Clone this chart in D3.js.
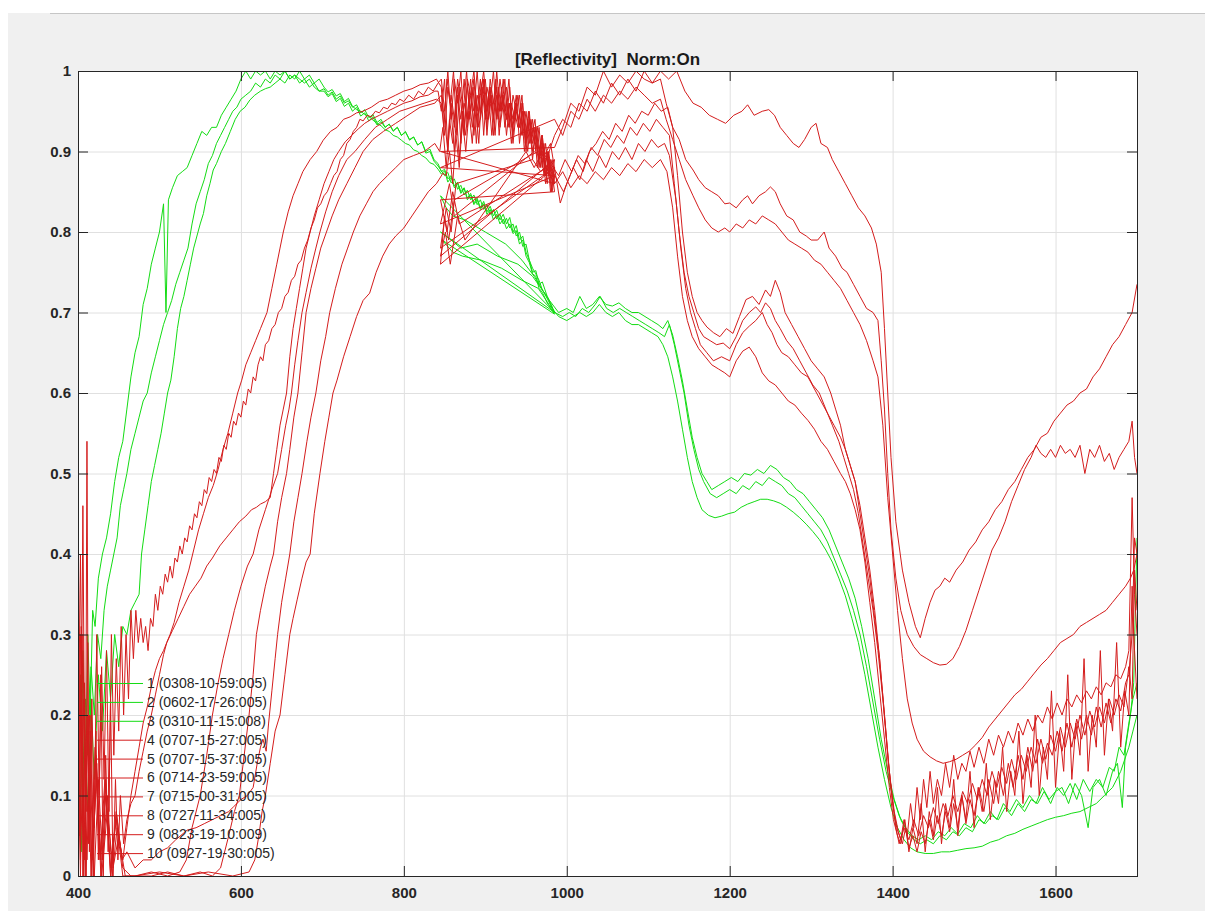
<!DOCTYPE html>
<html>
<head>
<meta charset="utf-8">
<script src="https://cdn.jsdelivr.net/npm/d3@7"></script>
<style>
body { margin: 0; background: #fff; }
svg { display: block; font-family: "Liberation Sans", Arial, sans-serif; }
</style>
</head>
<body>
<div id="vis"></div>
<script>
// Reflectivity spectra, [wavelength, value]. Each spectrum is two detector
// runs (400-985 and 845-1700) joined in one path, like the source file.

var labels = ['1 (0308-10-59:005)', '2 (0602-17-26:005)', '3 (0310-11-15:008)',
	'4 (0707-15-27:005)', '5 (0707-15-37:005)', '6 (0714-23-59:005)',
	'7 (0715-00-31:005)', '8 (0727-11-34:005)', '9 (0823-19-10:009)',
	'10 (0927-19-30:005)'];

var xTicks = [400, 600, 800, 1000, 1200, 1400, 1600];
var yTicks = [0, 0.1, 0.2, 0.3, 0.4, 0.5, 0.6, 0.7, 0.8, 0.9, 1];

var ser1 = [[400,0.22],[403,0.05],[406,0.28],[409,0.12],[412,0.30],[415,0.2],[418,0.33],[421,0.31],[425,0.37],[430,0.40],[435,0.42],[440,0.45],[445,0.49],[450,0.52],[455,0.54],[460,0.58],[465,0.62],[470,0.65],[475,0.67],[480,0.71],[485,0.73],[490,0.76],[495,0.78],[500,0.80],[505,0.835],[508,0.70],[511,0.84],[516,0.855],[522,0.87],[528,0.875],[534,0.88],[540,0.895],[546,0.91],[552,0.925],[558,0.92],[564,0.93],[570,0.93],[576,0.945],[582,0.955],[588,0.965],[594,0.975],[600,0.99],[606,1.0],[612,0.99],[618,1.0],[624,0.995],[630,1.0],[636,0.99],[642,1.0],[648,0.995],[654,1.0],[660,0.99],[666,0.995],[672,0.985],[678,0.99],[684,0.98],[690,0.985],[696,0.975],
	[702,0.975],[707,0.968],[712,0.972],[717,0.962],[722,0.966],[727,0.956],[732,0.96],[737,0.95],[742,0.955],[747,0.944],[752,0.948],[757,0.938],[762,0.943],[767,0.933],[772,0.937],[777,0.93],[782,0.934],[787,0.925],[792,0.93],[797,0.92],[802,0.924],[807,0.915],[812,0.918],[817,0.908],[822,0.912],[827,0.9],[832,0.903],[837,0.89],[842,0.885],[846,0.875],[850,0.878],[854,0.866],[858,0.87],[862,0.857],[866,0.862],[870,0.85],[874,0.855],[878,0.842],[882,0.848],[886,0.836],[890,0.842],[894,0.83],[898,0.838],[902,0.825],[906,0.832],[910,0.82],[914,0.827],[918,0.815],[922,0.822],[926,0.81],[930,0.818],[934,0.80],[938,0.808],[942,0.79],[946,0.795],[950,0.775],[954,0.765],[958,0.75],[962,0.752],[966,0.735],[970,0.738],[976,0.72],[980,0.712],[985,0.70],
	[845,0.845],[852,0.83],[860,0.82],[875,0.815],[900,0.80],[925,0.785],[945,0.765],[960,0.745],[975,0.72],[990,0.70],[1000,0.705],[1008,0.70],[1016,0.72],[1024,0.705],[1032,0.71],[1040,0.72],[1048,0.71],[1056,0.708],[1064,0.712],[1072,0.705],[1080,0.70],[1088,0.70],[1096,0.695],[1104,0.69],[1112,0.685],[1118,0.68],[1124,0.69],[1130,0.672],[1136,0.645],[1142,0.615],[1148,0.58],[1154,0.545],[1160,0.52],[1166,0.50],[1172,0.49],[1178,0.48],[1186,0.485],[1194,0.49],[1202,0.495],[1210,0.49],[1218,0.50],[1226,0.498],[1234,0.505],[1242,0.50],[1250,0.51],[1258,0.505],[1266,0.495],[1274,0.49],[1282,0.48],[1290,0.475],[1298,0.465],[1306,0.455],[1314,0.445],[1322,0.43],[1330,0.41],[1338,0.39],[1346,0.37],[1354,0.345],[1362,0.31],[1370,0.27],[1378,0.22],[1386,0.17],[1394,0.13],[1402,0.095],[1410,0.07],[1418,0.055],[1426,0.045],[1434,0.04],[1442,0.045],[1450,0.04],[1458,0.05],[1466,0.045],[1474,0.055],[1482,0.05],[1490,0.06],[1498,0.055],[1506,0.07],[1514,0.065],[1522,0.075],[1530,0.07],[1538,0.085],[1546,0.075],[1554,0.09],[1562,0.08],[1570,0.095],[1578,0.09],[1586,0.105],[1594,0.09],[1602,0.11],[1610,0.10],[1618,0.115],[1626,0.095],[1634,0.12],[1642,0.105],[1650,0.12],[1658,0.11],[1666,0.135],[1672,0.13],[1678,0.16],[1684,0.15],[1690,0.19],[1695,0.22],[1700,0.24]];

var ser2 = [[400,0.10],[403,0.25],[406,0.08],[409,0.22],[412,0.15],[416,0.26],[420,0.2],[424,0.3],[428,0.27],[432,0.33],[436,0.36],[440,0.38],[444,0.40],[448,0.42],[452,0.46],[456,0.48],[460,0.50],[465,0.53],[470,0.55],[475,0.57],[480,0.59],[485,0.60],[490,0.625],[495,0.645],[500,0.665],[505,0.685],[510,0.70],[515,0.715],[520,0.735],[525,0.75],[530,0.765],[535,0.78],[540,0.81],[545,0.835],[550,0.85],[555,0.865],[560,0.885],[565,0.895],[570,0.91],[575,0.92],[580,0.93],[585,0.94],[590,0.95],[595,0.955],[600,0.965],[606,0.97],[612,0.975],[618,0.985],[624,0.98],[630,0.99],[636,0.985],[642,0.995],[648,0.99],[654,1.0],[660,0.99],[666,0.995],[672,0.99],[678,0.985],[684,0.99],[690,0.98],[696,0.975],
	[702,0.978],[707,0.97],[712,0.974],[717,0.965],[722,0.969],[727,0.96],[732,0.963],[737,0.955],[742,0.958],[747,0.948],[752,0.952],[757,0.942],[762,0.946],[767,0.936],[772,0.94],[777,0.93],[782,0.934],[787,0.926],[792,0.93],[797,0.92],[802,0.925],[807,0.914],[812,0.918],[817,0.908],[822,0.912],[827,0.898],[832,0.9],[837,0.888],[842,0.882],[846,0.876],[850,0.87],[854,0.874],[858,0.861],[862,0.866],[866,0.853],[870,0.858],[874,0.846],[878,0.852],[882,0.84],[886,0.846],[890,0.834],[894,0.84],[898,0.828],[902,0.834],[906,0.822],[910,0.828],[914,0.816],[918,0.822],[922,0.81],[926,0.817],[930,0.805],[934,0.81],[938,0.795],[942,0.80],[946,0.782],[950,0.785],[954,0.765],[958,0.755],[962,0.748],[966,0.74],[970,0.728],[976,0.72],[980,0.71],[985,0.70],
	[845,0.80],[858,0.79],[870,0.78],[890,0.785],[915,0.77],[940,0.76],[958,0.745],[972,0.725],[985,0.70],[995,0.695],[1003,0.70],[1011,0.695],[1019,0.705],[1027,0.70],[1035,0.71],[1041,0.72],[1049,0.705],[1057,0.70],[1065,0.705],[1073,0.70],[1081,0.695],[1089,0.69],[1097,0.685],[1105,0.68],[1113,0.675],[1120,0.67],[1126,0.685],[1132,0.66],[1138,0.63],[1144,0.60],[1150,0.56],[1156,0.53],[1162,0.505],[1168,0.49],[1176,0.475],[1184,0.47],[1192,0.475],[1200,0.48],[1208,0.475],[1216,0.485],[1224,0.48],[1232,0.49],[1240,0.485],[1248,0.495],[1256,0.49],[1264,0.485],[1272,0.475],[1280,0.47],[1288,0.46],[1296,0.45],[1304,0.44],[1312,0.43],[1320,0.415],[1328,0.395],[1336,0.375],[1344,0.355],[1352,0.33],[1360,0.30],[1368,0.26],[1376,0.215],[1384,0.17],[1392,0.13],[1400,0.10],[1408,0.075],[1416,0.06],[1424,0.05],[1432,0.045],[1440,0.05],[1448,0.045],[1456,0.055],[1464,0.05],[1472,0.06],[1480,0.052],[1488,0.065],[1496,0.06],[1504,0.075],[1512,0.065],[1520,0.08],[1528,0.07],[1536,0.09],[1544,0.08],[1552,0.095],[1560,0.085],[1568,0.10],[1576,0.09],[1584,0.11],[1592,0.095],[1600,0.105],[1608,0.11],[1616,0.09],[1624,0.115],[1632,0.10],[1640,0.06],[1646,0.11],[1654,0.12],[1662,0.10],[1670,0.13],[1676,0.14],[1682,0.085],[1686,0.16],[1692,0.20],[1696,0.24],[1700,0.42]];

var ser3 = [[400,0.15],[404,0.03],[408,0.2],[412,0.08],[416,0.22],[420,0.12],[425,0.25],[430,0.18],[435,0.28],[440,0.22],[445,0.3],[450,0.26],[455,0.31],[460,0.3],[465,0.33],[470,0.34],[475,0.35],[478,0.40],[482,0.43],[486,0.46],[490,0.49],[494,0.51],[498,0.53],[502,0.55],[506,0.575],[510,0.60],[514,0.616],[518,0.645],[522,0.68],[526,0.705],[530,0.72],[534,0.74],[538,0.76],[542,0.78],[546,0.795],[550,0.81],[554,0.823],[558,0.845],[562,0.86],[566,0.877],[570,0.885],[576,0.90],[581,0.91],[587,0.925],[593,0.94],[599,0.95],[605,0.955],[611,0.964],[617,0.97],[624,0.975],[630,0.978],[636,0.98],[642,0.985],[648,0.99],[654,0.985],[660,0.995],[666,0.99],[672,1.0],[678,0.99],[684,0.995],[690,0.985],[696,0.99],
	[702,0.98],[707,0.974],[712,0.977],[717,0.969],[722,0.972],[727,0.962],[732,0.966],[737,0.956],[742,0.952],[747,0.95],[752,0.946],[757,0.944],[762,0.939],[767,0.935],[772,0.932],[777,0.927],[782,0.925],[787,0.92],[792,0.918],[797,0.914],[802,0.91],[807,0.908],[812,0.902],[817,0.9],[822,0.895],[827,0.892],[832,0.886],[837,0.884],[842,0.878],[846,0.872],[850,0.876],[854,0.862],[858,0.868],[862,0.855],[866,0.86],[870,0.848],[874,0.854],[878,0.84],[882,0.846],[886,0.834],[890,0.84],[894,0.828],[898,0.835],[902,0.822],[906,0.828],[910,0.815],[914,0.822],[918,0.81],[922,0.816],[926,0.804],[930,0.81],[934,0.798],[938,0.802],[942,0.785],[946,0.79],[950,0.77],[954,0.762],[958,0.748],[962,0.745],[966,0.73],[970,0.725],[976,0.712],[980,0.706],[985,0.698],
	[847,0.79],[860,0.775],[872,0.77],[895,0.765],[920,0.755],[945,0.74],[965,0.73],[978,0.71],[990,0.695],[1000,0.69],[1008,0.695],[1016,0.70],[1024,0.695],[1032,0.70],[1040,0.71],[1048,0.70],[1056,0.695],[1064,0.70],[1072,0.69],[1080,0.685],[1088,0.685],[1096,0.68],[1104,0.675],[1112,0.67],[1118,0.66],[1124,0.645],[1130,0.62],[1136,0.59],[1142,0.555],[1148,0.52],[1154,0.49],[1160,0.47],[1166,0.455],[1174,0.448],[1182,0.445],[1190,0.447],[1198,0.45],[1206,0.452],[1214,0.458],[1222,0.462],[1230,0.465],[1238,0.468],[1246,0.468],[1254,0.466],[1262,0.463],[1270,0.458],[1278,0.452],[1286,0.445],[1294,0.437],[1302,0.428],[1310,0.418],[1318,0.405],[1326,0.39],[1334,0.37],[1342,0.348],[1350,0.32],[1358,0.29],[1366,0.25],[1374,0.205],[1382,0.16],[1390,0.12],[1398,0.085],[1406,0.06],[1414,0.045],[1422,0.035],[1430,0.03],[1440,0.028],[1450,0.028],[1460,0.03],[1470,0.03],[1480,0.032],[1490,0.034],[1500,0.035],[1510,0.037],[1520,0.042],[1530,0.045],[1540,0.05],[1550,0.053],[1560,0.058],[1570,0.062],[1580,0.066],[1590,0.07],[1600,0.073],[1610,0.075],[1620,0.078],[1630,0.08],[1640,0.085],[1650,0.09],[1660,0.10],[1670,0.11],[1680,0.13],[1690,0.16],[1695,0.18],[1700,0.20]];

var ser4 = [[400,0.42],[402,0.05],[404,0.31],[406,0.0],[408,0.24],[410,0.08],[412,0.29],[414,0.03],[417,0.22],[420,0.06],[423,0.3],[426,0.1],[429,0.26],[432,0.12],[435,0.28],[438,0.08],[441,0.3],[444,0.15],[447,0.27],[450,0.18],[453,0.31],[456,0.2],[459,0.3],[462,0.22],[465,0.33],[468,0.27],[471,0.33],[474,0.29],[477,0.32],[480,0.29],[483,0.31],[486,0.28],[489,0.32],[492,0.31],[495,0.35],[498,0.33],[501,0.36],[504,0.35],[507,0.375],[510,0.365],[513,0.385],[516,0.37],[519,0.395],[522,0.39],[525,0.41],[528,0.40],[531,0.42],[534,0.415],[537,0.435],[540,0.43],[543,0.45],[546,0.445],[549,0.465],[552,0.46],[555,0.48],[558,0.475],[561,0.495],[564,0.49],[567,0.505],[570,0.50],[573,0.52],[576,0.515],[579,0.535],[582,0.53],[585,0.55],[588,0.545],[591,0.565],[594,0.56],[597,0.575],[600,0.57],[603,0.59],[606,0.585],[609,0.605],[612,0.60],[615,0.62],[618,0.615],[621,0.635],[624,0.645],[627,0.64],[630,0.66],[634,0.665],[638,0.68],[642,0.685],[646,0.70],[650,0.705],[654,0.72],[658,0.725],[662,0.74],[666,0.745],[670,0.76],[674,0.765],[678,0.78],[682,0.79],[686,0.805],[690,0.815],[694,0.83],[698,0.835],[702,0.845],[706,0.85],[710,0.86],[714,0.87],[718,0.875],[722,0.89],[726,0.895],[730,0.91],[734,0.915],[738,0.925],[742,0.93],[746,0.94],[750,0.938],[755,0.945],[760,0.943],[765,0.95],[770,0.948],[775,0.955],[780,0.953],[785,0.96],[790,0.958],[795,0.965],[800,0.962],[806,0.97],[812,0.965],[818,0.975],[824,0.97],[830,0.98],[836,0.975],[842,0.985],
	[846,0.99],[850,0.95],[854,1.0],[858,0.94],[862,0.99],[866,0.96],[870,1.0],[874,0.93],[878,0.99],[882,0.97],[886,1.0],[890,0.95],[894,0.99],[898,0.92],[902,0.98],[906,0.96],[910,1.0],[914,0.94],[918,0.99],[922,0.96],[926,0.98],[930,0.93],[934,0.97],[938,0.95],[942,0.97],[946,0.92],[950,0.95],[954,0.91],[958,0.94],[962,0.90],[966,0.93],[970,0.88],[974,0.91],[978,0.87],[982,0.89],[985,0.86],
	[845,0.90],[985,0.905],[995,0.93],[1005,0.96],[1015,0.95],[1025,0.98],[1035,0.97],[1045,1.0],[1055,0.98],[1065,0.995],[1075,0.985],[1085,1.0],[1095,0.99],[1105,0.985],[1115,1.0],[1125,0.99],[1135,1.0],[1145,0.975],[1155,0.96],[1165,0.955],[1175,0.945],[1185,0.94],[1195,0.935],[1205,0.945],[1215,0.95],[1222,0.958],[1230,0.945],[1240,0.95],[1248,0.952],[1255,0.945],[1262,0.93],[1270,0.92],[1278,0.91],[1285,0.905],[1292,0.915],[1300,0.93],[1306,0.935],[1312,0.91],[1320,0.905],[1326,0.89],[1334,0.875],[1342,0.86],[1350,0.845],[1358,0.83],[1366,0.82],[1374,0.805],[1380,0.785],[1386,0.75],[1390,0.68],[1394,0.60],[1398,0.52],[1404,0.44],[1412,0.38],[1420,0.34],[1428,0.31],[1434,0.296],[1440,0.32],[1446,0.34],[1452,0.355],[1458,0.36],[1464,0.37],[1470,0.365],[1478,0.38],[1486,0.39],[1494,0.405],[1502,0.415],[1510,0.43],[1518,0.44],[1526,0.455],[1534,0.465],[1542,0.48],[1550,0.49],[1558,0.505],[1566,0.52],[1574,0.53],[1582,0.545],[1590,0.55],[1598,0.565],[1606,0.575],[1614,0.585],[1622,0.59],[1630,0.60],[1638,0.605],[1646,0.62],[1654,0.63],[1662,0.645],[1670,0.66],[1678,0.67],[1686,0.685],[1694,0.70],[1700,0.735]];

var ser5 = [[400,0.3],[403,0.02],[406,0.46],[409,0.0],[411,0.54],[413,0.04],[416,0.2],[419,0.0],[422,0.18],[425,0.02],[428,0.25],[431,0.0],[434,0.15],[437,0.03],[440,0.22],[443,0.0],[446,0.12],[449,0.02],[452,0.1],[456,0.04],[460,0.07],[465,0.09],[470,0.10],[475,0.13],[480,0.155],[485,0.18],[490,0.20],[495,0.225],[500,0.25],[505,0.275],[509,0.29],[513,0.30],[518,0.315],[524,0.34],[530,0.36],[536,0.38],[542,0.405],[548,0.43],[554,0.45],[560,0.47],[566,0.485],[572,0.505],[578,0.53],[584,0.55],[590,0.575],[596,0.60],[601,0.616],[606,0.635],[612,0.65],[618,0.665],[624,0.68],[632,0.70],[638,0.73],[644,0.76],[648,0.78],[652,0.80],[658,0.825],[664,0.845],[670,0.86],[676,0.875],[685,0.89],[693,0.90],[701,0.914],[710,0.925],[718,0.93],[726,0.94],[734,0.943],[742,0.948],[750,0.95],[760,0.955],[770,0.962],[780,0.965],[790,0.97],[800,0.975],[810,0.978],[820,0.983],[830,0.985],[840,0.99],
	[846,0.98],[849,0.93],[853,0.99],[857,0.96],[861,1.0],[865,0.92],[869,0.98],[873,0.95],[877,1.0],[881,0.94],[885,0.98],[889,0.91],[893,0.97],[897,0.99],[901,0.94],[905,0.98],[909,0.95],[913,0.99],[917,0.92],[921,0.97],[925,0.95],[929,0.99],[933,0.93],[937,0.96],[941,0.94],[945,0.97],[949,0.91],[953,0.95],[957,0.92],[961,0.94],[965,0.89],[969,0.92],[973,0.88],[977,0.90],[981,0.85],[985,0.88],
	[845,0.76],[850,0.82],[855,0.79],[862,0.84],[955,0.895],[965,0.90],[975,0.89],[985,0.92],[995,0.94],[1005,0.93],[1015,0.96],[1025,0.95],[1035,0.975],[1045,0.96],[1055,0.985],[1065,0.97],[1075,0.99],[1085,0.975],[1095,1.0],[1105,0.985],[1115,0.99],[1122,0.96],[1130,0.93],[1138,0.915],[1146,0.89],[1155,0.877],[1162,0.865],[1170,0.855],[1178,0.85],[1186,0.845],[1194,0.835],[1200,0.836],[1208,0.83],[1216,0.84],[1222,0.845],[1228,0.835],[1236,0.845],[1244,0.85],[1250,0.856],[1256,0.85],[1262,0.835],[1270,0.82],[1278,0.815],[1286,0.80],[1294,0.795],[1300,0.79],[1308,0.79],[1316,0.80],[1322,0.78],[1330,0.77],[1338,0.755],[1344,0.75],[1352,0.735],[1360,0.72],[1368,0.705],[1376,0.70],[1382,0.69],[1386,0.64],[1390,0.58],[1394,0.50],[1398,0.43],[1404,0.37],[1410,0.33],[1418,0.30],[1426,0.285],[1434,0.275],[1442,0.27],[1450,0.265],[1458,0.262],[1466,0.263],[1474,0.27],[1482,0.285],[1490,0.305],[1498,0.33],[1506,0.355],[1514,0.38],[1522,0.405],[1530,0.42],[1538,0.44],[1546,0.465],[1554,0.485],[1562,0.505],[1570,0.52],[1576,0.535],[1582,0.525],[1588,0.52],[1594,0.53],[1600,0.52],[1606,0.535],[1612,0.525],[1618,0.53],[1624,0.52],[1630,0.535],[1636,0.50],[1642,0.53],[1648,0.52],[1654,0.535],[1660,0.515],[1666,0.525],[1672,0.505],[1678,0.52],[1684,0.53],[1690,0.54],[1694,0.565],[1697,0.52],[1700,0.50]];

var ser6 = [[400,0.15],[403,0.0],[407,0.22],[411,0.02],[415,0.18],[420,0.0],[425,0.12],[430,0.02],[436,0.1],[442,0.0],[448,0.06],[455,0.02],[460,0.06],[465,0.10],[470,0.13],[475,0.16],[480,0.19],[485,0.21],[490,0.235],[495,0.255],[500,0.27],[505,0.28],[509,0.29],[516,0.305],[523,0.32],[530,0.335],[537,0.35],[544,0.36],[551,0.37],[558,0.385],[565,0.395],[574,0.41],[582,0.42],[590,0.43],[598,0.44],[606,0.447],[613,0.455],[619,0.458],[624,0.462],[630,0.465],[636,0.47],[640,0.50],[644,0.53],[648,0.56],[652,0.58],[656,0.60],[660,0.645],[664,0.68],[668,0.705],[672,0.73],[676,0.755],[680,0.78],[685,0.80],[690,0.82],[696,0.84],[702,0.86],[708,0.875],[714,0.89],[720,0.90],[728,0.912],[736,0.92],[744,0.928],[752,0.935],[760,0.94],[770,0.945],[780,0.95],[790,0.955],[800,0.96],[810,0.963],[820,0.968],[830,0.97],[838,0.975],
	[842,0.975],[846,0.95],[850,0.99],[854,0.90],[858,0.97],[862,0.94],[866,0.99],[870,0.96],[874,0.92],[878,0.98],[882,0.95],[886,0.99],[890,0.93],[894,0.97],[898,1.0],[902,0.95],[906,0.98],[910,0.92],[914,0.97],[918,0.95],[922,0.99],[926,0.94],[930,0.96],[934,0.91],[938,0.95],[942,0.93],[946,0.96],[950,0.90],[954,0.94],[958,0.91],[962,0.93],[966,0.88],[970,0.92],[974,0.87],[978,0.89],[982,0.85],[985,0.87],
	[845,0.88],[985,0.94],[995,0.92],[1005,0.95],[1015,0.94],[1025,0.965],[1035,0.95],[1045,0.97],[1055,0.96],[1065,0.975],[1075,0.965],[1085,0.98],[1095,0.97],[1105,0.96],[1115,0.965],[1122,0.94],[1130,0.915],[1138,0.89],[1146,0.865],[1155,0.845],[1162,0.83],[1170,0.815],[1178,0.805],[1186,0.80],[1194,0.805],[1200,0.80],[1208,0.81],[1216,0.805],[1224,0.815],[1232,0.81],[1240,0.82],[1248,0.815],[1256,0.81],[1264,0.80],[1272,0.79],[1280,0.785],[1288,0.78],[1296,0.775],[1304,0.765],[1312,0.76],[1320,0.75],[1328,0.74],[1336,0.73],[1344,0.715],[1352,0.70],[1360,0.685],[1368,0.665],[1376,0.64],[1382,0.62],[1388,0.56],[1394,0.47],[1400,0.40],[1406,0.33],[1412,0.27],[1418,0.22],[1424,0.19],[1430,0.17],[1438,0.155],[1446,0.148],[1454,0.143],[1462,0.14],[1470,0.142],[1478,0.145],[1486,0.15],[1494,0.155],[1502,0.163],[1510,0.172],[1518,0.185],[1526,0.195],[1534,0.205],[1542,0.215],[1550,0.225],[1558,0.232],[1566,0.242],[1574,0.252],[1582,0.262],[1590,0.27],[1598,0.28],[1606,0.29],[1614,0.295],[1622,0.30],[1630,0.31],[1638,0.315],[1646,0.32],[1654,0.325],[1662,0.33],[1670,0.34],[1678,0.35],[1686,0.36],[1692,0.37],[1696,0.38],[1700,0.40]];

var ser7 = [[400,0.46],[403,0.05],[406,0.3],[410,0.0],[414,0.2],[418,0.02],[423,0.14],[428,0.0],[434,0.1],[440,0.01],[447,0.07],[455,0.0],[470,0.0],[490,0.005],[510,0.0],[525,0.005],[533,0.02],[540,0.06],[550,0.1],[558,0.15],[565,0.2],[572,0.24],[578,0.27],[585,0.3],[592,0.33],[600,0.36],[608,0.385],[615,0.4],[622,0.43],[630,0.455],[638,0.48],[645,0.5],[650,0.53],[655,0.56],[659,0.58],[662,0.6],[666,0.635],[670,0.665],[675,0.7],[680,0.725],[686,0.755],[692,0.78],[697,0.8],[704,0.825],[712,0.85],[720,0.87],[730,0.89],[740,0.9],[752,0.915],[765,0.93],[780,0.94],[795,0.95],[810,0.955],[825,0.96],[840,0.965],
	[846,0.96],[850,0.92],[854,0.98],[858,0.95],[862,0.90],[866,0.97],[870,0.94],[874,0.99],[878,0.93],[882,0.97],[886,0.95],[890,1.0],[894,0.94],[898,0.97],[902,0.93],[906,0.99],[910,0.96],[914,0.98],[918,0.93],[922,0.96],[926,0.94],[930,0.98],[934,0.92],[938,0.96],[942,0.93],[946,0.95],[950,0.91],[954,0.94],[958,0.89],[962,0.93],[966,0.90],[970,0.92],[974,0.87],[978,0.90],[982,0.86],[985,0.88],
	[845,0.78],[852,0.83],[858,0.80],[864,0.86],[958,0.89],[968,0.875],[978,0.885],[988,0.865],[996,0.85],[1004,0.87],[1012,0.89],[1020,0.875],[1028,0.90],[1036,0.91],[1044,0.925],[1052,0.915],[1060,0.935],[1068,0.925],[1076,0.945],[1084,0.935],[1092,0.95],[1100,0.945],[1108,0.96],[1116,0.95],[1124,0.955],[1130,0.93],[1136,0.87],[1142,0.80],[1148,0.75],[1154,0.72],[1160,0.70],[1166,0.69],[1172,0.682],[1180,0.675],[1188,0.67],[1196,0.68],[1204,0.674],[1212,0.695],[1220,0.716],[1228,0.72],[1236,0.71],[1244,0.728],[1250,0.72],[1256,0.74],[1262,0.725],[1268,0.70],[1276,0.685],[1284,0.67],[1292,0.655],[1300,0.64],[1308,0.63],[1316,0.62],[1324,0.60],[1330,0.58],[1336,0.56],[1342,0.53],[1348,0.51],[1354,0.49],[1360,0.45],[1366,0.41],[1372,0.37],[1378,0.32],[1384,0.27],[1390,0.2],[1395,0.14],[1400,0.09],[1405,0.06],[1410,0.045],[1414,0.07],[1418,0.05],[1422,0.09],[1426,0.06],[1430,0.11],[1434,0.07],[1438,0.12],[1442,0.085],[1446,0.13],[1450,0.09],[1455,0.12],[1460,0.10],[1465,0.14],[1470,0.11],[1475,0.15],[1480,0.12],[1485,0.14],[1490,0.13],[1495,0.155],[1500,0.135],[1506,0.16],[1512,0.14],[1518,0.17],[1524,0.15],[1530,0.175],[1536,0.16],[1542,0.18],[1548,0.165],[1554,0.19],[1560,0.175],[1566,0.195],[1572,0.18],[1578,0.20],[1584,0.19],[1590,0.21],[1596,0.195],[1602,0.215],[1608,0.20],[1614,0.22],[1620,0.21],[1626,0.225],[1632,0.215],[1638,0.23],[1644,0.22],[1650,0.235],[1656,0.225],[1662,0.24],[1668,0.235],[1674,0.25],[1680,0.245],[1686,0.26],[1690,0.28],[1694,0.47],[1697,0.35],[1700,0.30]];

var ser8 = [[400,0.0],[404,0.25],[408,0.02],[412,0.18],[417,0.0],[422,0.15],[428,0.02],[434,0.12],[440,0.0],[447,0.08],[455,0.01],[465,0.0],[490,0.0],[510,0.005],[530,0.0],[550,0.005],[565,0.0],[575,0.01],[585,0.05],[592,0.08],[598,0.1],[604,0.15],[610,0.2],[615,0.25],[619,0.3],[624,0.33],[630,0.36],[636,0.385],[640,0.4],[645,0.44],[650,0.47],[656,0.5],[660,0.53],[665,0.57],[670,0.6],[675,0.65],[680,0.7],[686,0.73],[692,0.755],[698,0.78],[705,0.8],[712,0.82],[720,0.84],[730,0.86],[740,0.88],[750,0.9],[762,0.915],[775,0.925],[790,0.935],[805,0.945],[820,0.955],[838,0.96],
	[846,0.97],[850,0.94],[854,0.90],[858,0.96],[862,0.93],[866,0.98],[870,0.91],[874,0.96],[878,0.94],[882,0.99],[886,0.92],[890,0.97],[894,0.95],[898,0.99],[902,0.92],[906,0.97],[910,0.94],[914,1.0],[918,0.95],[922,0.97],[926,0.92],[930,0.96],[934,0.94],[938,0.97],[942,0.91],[946,0.95],[950,0.92],[954,0.95],[958,0.90],[962,0.92],[966,0.89],[970,0.91],[974,0.86],[978,0.89],[982,0.87],[985,0.89],
	[845,0.77],[851,0.80],[857,0.76],[866,0.82],[875,0.79],[950,0.90],[960,0.88],[970,0.90],[980,0.885],[990,0.87],[998,0.89],[1006,0.875],[1014,0.895],[1022,0.885],[1030,0.905],[1038,0.895],[1046,0.915],[1054,0.905],[1062,0.92],[1070,0.91],[1078,0.93],[1086,0.92],[1094,0.935],[1102,0.925],[1110,0.94],[1118,0.93],[1126,0.92],[1132,0.86],[1138,0.80],[1144,0.75],[1150,0.72],[1156,0.70],[1162,0.68],[1168,0.67],[1176,0.665],[1184,0.66],[1192,0.662],[1200,0.655],[1208,0.67],[1216,0.69],[1224,0.70],[1232,0.707],[1238,0.70],[1244,0.712],[1250,0.705],[1256,0.69],[1262,0.68],[1270,0.665],[1278,0.655],[1286,0.64],[1294,0.625],[1302,0.61],[1310,0.60],[1318,0.58],[1326,0.56],[1334,0.54],[1340,0.52],[1346,0.50],[1352,0.48],[1358,0.45],[1364,0.41],[1370,0.37],[1376,0.33],[1382,0.28],[1388,0.22],[1394,0.15],[1399,0.10],[1404,0.06],[1408,0.04],[1414,0.06],[1420,0.045],[1426,0.07],[1432,0.05],[1438,0.075],[1444,0.06],[1450,0.085],[1456,0.065],[1462,0.09],[1468,0.075],[1474,0.10],[1480,0.08],[1486,0.105],[1492,0.09],[1498,0.115],[1504,0.095],[1510,0.12],[1516,0.10],[1522,0.13],[1528,0.11],[1534,0.135],[1540,0.115],[1546,0.145],[1552,0.12],[1558,0.15],[1564,0.13],[1570,0.16],[1576,0.14],[1582,0.17],[1588,0.145],[1594,0.175],[1600,0.155],[1606,0.185],[1612,0.16],[1618,0.19],[1624,0.17],[1630,0.20],[1636,0.175],[1642,0.205],[1648,0.185],[1654,0.21],[1660,0.19],[1666,0.22],[1672,0.20],[1678,0.225],[1684,0.21],[1690,0.26],[1694,0.22],[1697,0.38],[1700,0.33]];

var ser9 = [[400,0.12],[403,0.4],[407,0.02],[411,0.2],[416,0.0],[421,0.16],[427,0.02],[433,0.12],[440,0.0],[447,0.08],[454,0.02],[460,0.03],[470,0.01],[480,0.02],[490,0.02],[500,0.03],[510,0.035],[520,0.045],[534,0.057],[545,0.06],[555,0.065],[565,0.07],[575,0.075],[585,0.08],[591,0.086],[600,0.095],[608,0.10],[615,0.11],[620,0.14],[624,0.16],[627,0.17],[631,0.155],[634,0.19],[638,0.23],[642,0.27],[645,0.30],[650,0.34],[655,0.37],[660,0.40],[665,0.44],[670,0.47],[675,0.50],[681,0.54],[686,0.57],[692,0.60],[698,0.64],[704,0.67],[709,0.70],[716,0.73],[724,0.76],[731,0.78],[738,0.80],[746,0.82],[754,0.835],[762,0.85],[770,0.86],[780,0.87],[790,0.88],[800,0.89],[812,0.895],[825,0.90],[838,0.91],
	[844,0.90],[848,0.93],[852,0.88],[856,0.94],[860,0.91],[864,0.96],[868,0.89],[872,0.95],[876,0.92],[880,0.97],[884,0.93],[888,0.96],[892,0.91],[896,0.98],[900,0.94],[904,0.97],[908,0.92],[912,0.96],[916,0.94],[920,0.98],[924,0.93],[928,0.96],[932,0.91],[936,0.95],[940,0.93],[944,0.96],[948,0.90],[952,0.94],[956,0.91],[960,0.93],[964,0.88],[968,0.91],[972,0.87],[976,0.90],[980,0.85],[985,0.87],
	[845,0.81],[856,0.86],[862,0.82],[960,0.90],[970,0.89],[980,0.91],[992,0.836],[1000,0.86],[1008,0.88],[1016,0.865],[1024,0.89],[1032,0.875],[1040,0.895],[1048,0.88],[1056,0.90],[1064,0.89],[1072,0.905],[1080,0.89],[1088,0.91],[1096,0.90],[1104,0.915],[1112,0.905],[1120,0.91],[1126,0.895],[1134,0.84],[1140,0.78],[1146,0.73],[1152,0.70],[1158,0.68],[1164,0.66],[1172,0.65],[1180,0.64],[1190,0.645],[1200,0.64],[1208,0.66],[1216,0.675],[1224,0.683],[1232,0.69],[1240,0.70],[1246,0.685],[1252,0.675],[1258,0.66],[1264,0.65],[1272,0.645],[1280,0.635],[1288,0.625],[1296,0.62],[1304,0.605],[1312,0.59],[1320,0.575],[1328,0.56],[1336,0.545],[1342,0.53],[1348,0.51],[1354,0.49],[1360,0.46],[1366,0.42],[1372,0.38],[1378,0.33],[1384,0.27],[1390,0.20],[1396,0.13],[1402,0.08],[1407,0.055],[1412,0.04],[1416,0.06],[1420,0.035],[1425,0.05],[1430,0.03],[1435,0.055],[1440,0.04],[1445,0.07],[1450,0.045],[1455,0.075],[1460,0.05],[1465,0.08],[1470,0.055],[1475,0.09],[1480,0.06],[1485,0.10],[1490,0.065],[1495,0.095],[1500,0.075],[1506,0.11],[1512,0.08],[1518,0.12],[1524,0.09],[1530,0.13],[1536,0.10],[1542,0.14],[1548,0.11],[1554,0.15],[1560,0.12],[1566,0.16],[1572,0.13],[1578,0.17],[1584,0.14],[1590,0.165],[1596,0.15],[1602,0.18],[1608,0.155],[1614,0.19],[1620,0.16],[1626,0.195],[1632,0.17],[1638,0.20],[1644,0.175],[1650,0.21],[1656,0.185],[1662,0.215],[1668,0.19],[1674,0.22],[1680,0.205],[1686,0.24],[1690,0.25],[1694,0.30],[1697,0.42],[1700,0.40]];

var ser10 = [[400,0.05],[403,0.3],[407,0.0],[412,0.2],[417,0.02],[423,0.12],[429,0.0],[436,0.08],[443,0.01],[450,0.05],[458,0.0],[470,0.0],[500,0.005],[530,0.0],[560,0.005],[590,0.0],[610,0.005],[617,0.02],[622,0.05],[626,0.08],[630,0.1],[636,0.14],[642,0.18],[648,0.2],[654,0.25],[660,0.3],[664,0.32],[669,0.343],[675,0.37],[680,0.39],[685,0.4],[690,0.45],[697,0.5],[703,0.54],[708,0.57],[713,0.6],[718,0.616],[726,0.645],[734,0.67],[742,0.695],[750,0.715],[758,0.724],[766,0.75],[774,0.77],[782,0.785],[790,0.795],[800,0.805],[810,0.82],[820,0.835],[830,0.85],[840,0.86],[848,0.873],
	[852,0.87],[856,0.90],[860,0.86],[864,0.92],[868,0.88],[872,0.94],[876,0.90],[880,0.95],[884,0.91],[888,0.97],[892,0.93],[896,0.96],[900,0.99],[904,0.94],[908,0.97],[912,0.92],[916,0.98],[920,0.95],[924,0.99],[928,0.93],[932,0.96],[936,0.94],[940,0.97],[944,0.92],[948,0.95],[952,0.90],[956,0.94],[960,0.91],[964,0.93],[968,0.88],[972,0.91],[976,0.86],[980,0.89],[985,0.85],
	[845,0.84],[853,0.80],[860,0.85],[868,0.81],[975,0.88],[985,0.86],[995,0.875],[1005,0.855],[1015,0.87],[1025,0.86],[1035,0.875],[1045,0.865],[1055,0.88],[1065,0.87],[1075,0.885],[1085,0.875],[1095,0.89],[1105,0.88],[1115,0.89],[1123,0.875],[1130,0.83],[1136,0.77],[1142,0.72],[1148,0.69],[1154,0.67],[1162,0.655],[1170,0.645],[1178,0.635],[1186,0.63],[1194,0.625],[1200,0.62],[1208,0.64],[1216,0.652],[1224,0.657],[1232,0.645],[1240,0.625],[1248,0.615],[1256,0.61],[1264,0.60],[1272,0.59],[1280,0.585],[1288,0.575],[1296,0.566],[1304,0.555],[1312,0.54],[1320,0.53],[1328,0.515],[1336,0.50],[1342,0.49],[1348,0.475],[1354,0.455],[1360,0.43],[1366,0.39],[1372,0.34],[1378,0.29],[1384,0.23],[1390,0.17],[1396,0.11],[1401,0.07],[1406,0.05],[1410,0.04],[1415,0.07],[1420,0.03],[1425,0.06],[1430,0.04],[1435,0.09],[1440,0.03],[1445,0.08],[1450,0.05],[1455,0.11],[1460,0.04],[1465,0.09],[1470,0.06],[1475,0.12],[1480,0.05],[1485,0.10],[1490,0.07],[1495,0.13],[1500,0.06],[1505,0.11],[1510,0.08],[1515,0.14],[1520,0.07],[1525,0.12],[1530,0.09],[1535,0.16],[1540,0.08],[1545,0.13],[1550,0.10],[1555,0.18],[1560,0.09],[1565,0.15],[1570,0.11],[1575,0.20],[1580,0.10],[1585,0.16],[1590,0.12],[1595,0.23],[1600,0.11],[1605,0.18],[1610,0.13],[1615,0.25],[1620,0.12],[1625,0.19],[1630,0.15],[1635,0.27],[1640,0.13],[1645,0.20],[1650,0.16],[1655,0.28],[1660,0.15],[1665,0.22],[1670,0.18],[1675,0.29],[1680,0.16],[1685,0.23],[1690,0.20],[1694,0.36],[1697,0.28],[1700,0.22]];

var greenCol = '#14dc14';
var redCol = '#d41c1c';

var series = [ser1, ser2, ser3, ser4, ser5, ser6, ser7, ser8, ser9, ser10];
var colors = [greenCol, greenCol, greenCol, redCol, redCol, redCol, redCol, redCol, redCol, redCol];

// plot box in page pixels
var box = {left: 78, top: 71, right: 1137, bottom: 876};

buildChart();

function buildChart() {
	var width = box.right - box.left;
	var height = box.bottom - box.top;

	var svg = d3.select('#vis')
		.append('svg')
		.attr('width', 1205)
		.attr('height', 911);

	// grey figure background
	svg.append('rect')
		.attr('x', 8).attr('y', 13)
		.attr('width', 1197).attr('height', 898)
		.attr('fill', '#f0f0f0');
	svg.append('line')
		.attr('x1', 50).attr('x2', 1205)
		.attr('y1', 13.5).attr('y2', 13.5)
		.attr('stroke', '#c6c6c6');

	var x = d3.scaleLinear().domain([400, 1700]).range([box.left, box.right]);
	var y = d3.scaleLinear().domain([0, 1]).range([box.bottom, box.top]);

	svg.append('rect')
		.attr('x', box.left).attr('y', box.top)
		.attr('width', width).attr('height', height)
		.attr('fill', '#fff');

	drawGrid(svg, x, y, width, height);
	drawLines(svg, x, y, width, height);
	drawAxes(svg, x, y, width, height);
	drawLegend(svg);

	svg.append('text')
		.attr('x', (box.left + box.right) / 2)
		.attr('y', 65)
		.attr('text-anchor', 'middle')
		.style('white-space', 'pre')
		.attr('font-size', 17)
		.attr('font-weight', 'bold')
		.attr('fill', '#1a1a1a')
		.text('[Reflectivity]  Norm:On');
}

// light grid lines behind the data
function drawGrid(svg, x, y, width, height) {
	svg.append('g')
		.attr('transform', 'translate(0,' + box.bottom + ')')
		.call(d3.axisBottom(x).tickValues(xTicks).tickSize(-height).tickFormat(''))
		.call(function(g) { g.select('.domain').remove(); })
		.selectAll('line')
		.attr('stroke', '#e0e0e0');

	svg.append('g')
		.attr('transform', 'translate(' + box.left + ',0)')
		.call(d3.axisLeft(y).tickValues(yTicks).tickSize(-width).tickFormat(''))
		.call(function(g) { g.select('.domain').remove(); })
		.selectAll('line')
		.attr('stroke', '#e0e0e0');
}

// one path per spectrum, clipped to the box
function drawLines(svg, x, y, width, height) {
	svg.append('clipPath')
		.attr('id', 'plotclip')
		.append('rect')
		.attr('x', box.left).attr('y', box.top)
		.attr('width', width).attr('height', height);

	var line = d3.line()
		.x(function(d) { return x(d[0]); })
		.y(function(d) { return y(d[1]); });

	svg.append('g')
		.attr('clip-path', 'url(#plotclip)')
		.selectAll('path')
		.data(series)
		.enter()
		.append('path')
		.attr('d', line)
		.attr('fill', 'none')
		.attr('stroke-width', 1)
		.attr('stroke', function(d, i) { return colors[i]; });
}

// ticks point inwards on all four sides, labels only bottom and left
function drawAxes(svg, x, y, width, height) {
	var fmt = d3.format('~g');

	var bottom = svg.append('g')
		.attr('transform', 'translate(0,' + box.bottom + ')')
		.call(d3.axisBottom(x).tickValues(xTicks).tickSize(-10).tickPadding(11).tickFormat(fmt));
	var left = svg.append('g')
		.attr('transform', 'translate(' + box.left + ',0)')
		.call(d3.axisLeft(y).tickValues(yTicks).tickSize(-10).tickPadding(7).tickFormat(fmt));
	var top = svg.append('g')
		.attr('transform', 'translate(0,' + box.top + ')')
		.call(d3.axisTop(x).tickValues(xTicks).tickSize(-10).tickFormat(''));
	var right = svg.append('g')
		.attr('transform', 'translate(' + box.right + ',0)')
		.call(d3.axisRight(y).tickValues(yTicks).tickSize(-10).tickFormat(''));

	[bottom, left, top, right].forEach(function(g) {
		g.select('.domain').remove();
		g.selectAll('line').attr('stroke', '#262626');
		g.selectAll('text')
			.attr('font-family', '"Liberation Sans", Arial, sans-serif')
			.attr('font-size', 15)
			.attr('font-weight', 'bold')
			.attr('fill', '#262626');
	});

	svg.append('rect')
		.attr('x', box.left + 0.5).attr('y', box.top + 0.5)
		.attr('width', width).attr('height', height)
		.attr('fill', 'none')
		.attr('stroke', '#262626');
}

// legend has no frame, the data shows through it
function drawLegend(svg) {
	var rows = svg.append('g')
		.selectAll('g')
		.data(labels)
		.enter()
		.append('g')
		.attr('transform', function(d, i) {
			return 'translate(0,' + (683 + i * 18.9) + ')';
		});

	rows.append('line')
		.attr('x1', 97).attr('x2', 143)
		.attr('y1', 0.5).attr('y2', 0.5)
		.attr('stroke', function(d, i) { return colors[i]; });

	rows.append('text')
		.attr('x', 147)
		.attr('dy', '0.35em')
		.attr('font-size', 14)
		.attr('fill', '#262626')
		.text(function(d) { return d; });
}
</script>
</body>
</html>
